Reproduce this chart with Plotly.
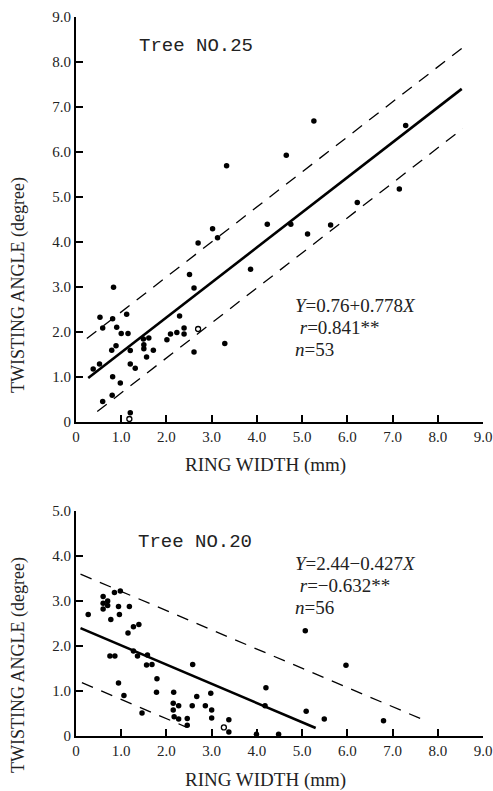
import plotly.graph_objects as go

# ---------------- data: Tree NO.25 (top) ----------------
t25_x = [0.38, 0.52, 0.53, 0.59, 0.59, 0.81, 0.83, 0.79, 0.81, 0.80, 0.885, 0.90,
         1.00, 0.98, 1.12, 1.15, 1.20, 1.20, 1.31, 1.20, 1.49, 1.50, 1.50, 1.61,
         1.56, 1.71, 2.01, 2.09, 2.23, 2.29, 2.39, 2.39, 2.51, 2.61, 2.61, 2.70,
         3.02, 3.13, 3.29, 3.86, 4.23, 4.75, 3.33, 4.65, 5.26, 7.29, 5.12, 5.63,
         6.22, 7.15]
t25_y = [1.17, 1.28, 2.32, 2.08, 0.45, 2.29, 2.99, 1.59, 1.00, 0.59, 1.69, 2.10,
         1.96, 0.86, 2.39, 1.96, 1.58, 1.28, 1.19, 0.20, 1.84, 1.71, 1.62, 1.86,
         1.44, 1.59, 1.82, 1.95, 1.98, 2.35, 2.08, 1.95, 3.27, 2.97, 1.55, 3.97,
         4.29, 4.09, 1.74, 3.39, 4.39, 4.39, 5.69, 5.92, 6.68, 6.58, 4.17, 4.37,
         4.87, 5.17]
t25_open_x = [1.18, 2.70]
t25_open_y = [0.06, 2.06]
t25_a, t25_b = 0.76, 0.778
t25_band = 0.90
t25_fit_x = [0.27, 8.53]
t25_up_x = [0.24, 8.60]
t25_lo_x = [0.47, 8.55]

# ---------------- data: Tree NO.20 (bottom) ----------------
t20_x = [0.27, 0.60, 0.60, 0.60, 0.70, 0.70, 0.77, 0.85, 0.98, 0.94, 0.96, 1.18,
         1.15, 1.27, 1.39, 1.27, 1.36, 0.75, 0.86, 1.58, 1.56, 1.68, 1.79, 1.78,
         0.94, 1.06, 1.46, 2.58, 2.16, 2.15, 2.15, 2.17, 2.27, 2.27, 2.46, 2.46,
         2.57, 2.67, 2.86, 2.98, 3.00, 3.00, 3.38, 3.38, 3.99, 4.20, 4.18, 4.48,
         5.07, 5.97, 5.09, 5.49, 6.80]
t20_y = [2.70, 3.10, 2.95, 2.82, 3.00, 2.90, 2.59, 3.19, 3.22, 2.88, 2.70, 2.88,
         2.29, 2.43, 2.48, 1.89, 1.78, 1.78, 1.78, 1.80, 1.58, 1.59, 1.27, 0.97,
         1.18, 0.90, 0.51, 1.59, 0.97, 0.73, 0.58, 0.43, 0.67, 0.38, 0.39, 0.24,
         0.67, 0.88, 0.67, 0.95, 0.58, 0.40, 0.36, 0.09, 0.04, 1.07, 0.67, 0.04,
         2.34, 1.57, 0.55, 0.38, 0.34]
t20_open_x = [3.27]
t20_open_y = [0.19]
t20_a, t20_b = 2.44, -0.427
t20_band = 1.20
t20_fit_x = [0.10, 5.30]
t20_up_x = [0.10, 7.65]
t20_lo_x = [0.13, 2.45]

x_ticks = [0, 1, 2, 3, 4, 5, 6, 7, 8, 9]
x_tick_text = ["0", "1.0", "2.0", "3.0", "4.0", "5.0", "6.0", "7.0", "8.0", "9.0"]
y25_ticks = [0, 1, 2, 3, 4, 5, 6, 7, 8, 9]
y25_tick_text = ["0", "1.0", "2.0", "3.0", "4.0", "5.0", "6.0", "7.0", "8.0", "9.0"]
y20_ticks = [0, 1, 2, 3, 4, 5]
y20_tick_text = ["0", "1.0", "2.0", "3.0", "4.0", "5.0"]

W, H = 493, 791
SERIF = "Liberation Serif"
MONO = "Liberation Mono"

def line(xs, a, b, off):
    return [a + b * x + off for x in xs]

fig = go.Figure()

def add_panel(xa, ya, px, py, ox, oy, a, b, band, fx, ux, lx):
    fig.add_trace(go.Scatter(x=fx, y=line(fx, a, b, 0), mode="lines",
                             line=dict(color="black", width=2.6),
                             xaxis=xa, yaxis=ya, showlegend=False, hoverinfo="skip",
                             cliponaxis=False))
    fig.add_trace(go.Scatter(x=ux, y=line(ux, a, b, band), mode="lines",
                             line=dict(color="black", width=1.3, dash="12px,9px"),
                             xaxis=xa, yaxis=ya, showlegend=False, hoverinfo="skip"))
    fig.add_trace(go.Scatter(x=lx, y=line(lx, a, b, -band), mode="lines",
                             line=dict(color="black", width=1.3, dash="12px,9px"),
                             xaxis=xa, yaxis=ya, showlegend=False, hoverinfo="skip"))
    fig.add_trace(go.Scatter(x=px, y=py, mode="markers",
                             marker=dict(color="black", size=5.5),
                             xaxis=xa, yaxis=ya, showlegend=False, cliponaxis=False))
    fig.add_trace(go.Scatter(x=ox, y=oy, mode="markers",
                             marker=dict(color="white", size=5,
                                         line=dict(color="black", width=1.3)),
                             xaxis=xa, yaxis=ya, showlegend=False, cliponaxis=False))

add_panel("x", "y", t25_x, t25_y, t25_open_x, t25_open_y, t25_a, t25_b, t25_band,
          t25_fit_x, t25_up_x, t25_lo_x)
add_panel("x2", "y2", t20_x, t20_y, t20_open_x, t20_open_y, t20_a, t20_b, t20_band,
          t20_fit_x, t20_up_x, t20_lo_x)

xdom = [76 / W, 483 / W]
top_dom = [1 - 421.7 / H, 1 - 16.7 / H]
bot_dom = [1 - 736 / H, 1 - 511 / H]

axis_common = dict(showline=True, linecolor="black", linewidth=2, ticks="inside",
                   ticklen=7, tickwidth=1.5, tickcolor="black", showgrid=False,
                   zeroline=False, automargin=False,
                   tickfont=dict(family=SERIF, size=15, color="#222"))

fig.update_layout(
    width=W, height=H, margin=dict(l=0, r=0, t=0, b=0, autoexpand=False),
    paper_bgcolor="white", plot_bgcolor="white",
    xaxis=dict(domain=xdom, range=[0, 9], tickvals=x_ticks, ticktext=x_tick_text,
               anchor="y", **axis_common),
    yaxis=dict(domain=top_dom, range=[0, 9], tickvals=y25_ticks, ticktext=y25_tick_text,
               anchor="x", **axis_common),
    xaxis2=dict(domain=xdom, range=[0, 9], tickvals=x_ticks, ticktext=x_tick_text,
                anchor="y2", **axis_common),
    yaxis2=dict(domain=bot_dom, range=[0, 5], tickvals=y20_ticks, ticktext=y20_tick_text,
                anchor="x2", **axis_common),
)

def px_x(p):
    return p / W

def px_y(p):
    return 1 - p / H

ann = []
# axis titles
for yc in (465, 780):
    ann.append(dict(x=px_x(265), y=px_y(yc), text="RING WIDTH (mm)", showarrow=False,
                    xanchor="center", yanchor="middle",
                    xref="paper", yref="paper", font=dict(family=SERIF, size=19, color="#222")))
for yc in (285, 665):
    ann.append(dict(x=px_x(18), y=px_y(yc), text="TWISTING ANGLE (degree)", showarrow=False,
                    textangle=-90, xanchor="center", yanchor="middle",
                    xref="paper", yref="paper",
                    font=dict(family=SERIF, size=18, color="#222")))
# tree labels
ann.append(dict(x=px_x(196), y=px_y(46), text="Tree NO.25", showarrow=False,
                xanchor="center", yanchor="middle",
                xref="paper", yref="paper", font=dict(family=MONO, size=19, color="#222")))
ann.append(dict(x=px_x(195), y=px_y(542), text="Tree NO.20", showarrow=False,
                xanchor="center", yanchor="middle",
                xref="paper", yref="paper", font=dict(family=MONO, size=19, color="#222")))
# equations
eq_top = ["<i>Y</i>=0.76+0.778<i>X</i>", " <i>r</i>=0.841**", "<i>n</i>=53"]
eq_bot = ["<i>Y</i>=2.44−0.427<i>X</i>", " <i>r</i>=−0.632**", "<i>n</i>=56"]
for lines_, y0 in ((eq_top, 305), (eq_bot, 563)):
    for i, t in enumerate(lines_):
        ann.append(dict(x=px_x(293), y=px_y(y0 + 22 * i), text=t, showarrow=False,
                        xanchor="left", yanchor="middle", xref="paper", yref="paper",
                        font=dict(family=SERIF, size=19, color="#222")))
fig.update_layout(annotations=ann)

fig.write_html(
    "out.html",
    config={"displayModeBar": False},
    post_script="document.body.style.margin='0';document.body.style.overflow='hidden';"
                "document.documentElement.style.overflow='hidden';",
)
